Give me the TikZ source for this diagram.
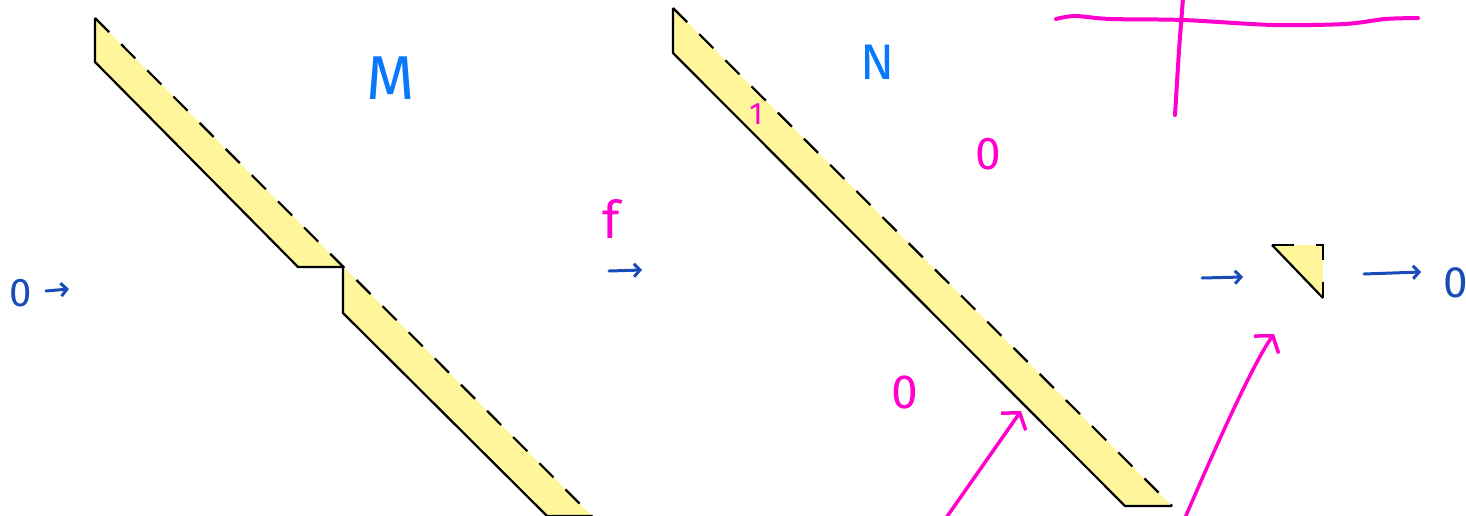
\documentclass[tikz,border=0pt]{standalone}
\usepackage{fontspec}
\setmainfont{Fira Sans}
\usetikzlibrary{arrows.meta}

\definecolor{stripfill}{RGB}{255,245,155}
\definecolor{penblue}{RGB}{10,120,250}
\definecolor{inkblue}{RGB}{25,75,185}
\definecolor{pinkpen}{RGB}{255,0,205}

\tikzset{
  hand/.style={inner sep=0pt, font=\fontsize{#1}{#1}\selectfont},
  edge/.style={line width=2.2pt, line join=miter},
  dashedge/.style={line width=2.2pt, dash pattern=on 20pt off 17pt},
  bluearrow/.style={inkblue, line width=3pt, line cap=round,
    -{Straight Barb[length=6pt,width=13pt,line width=3pt]}},
  pinkarrow/.style={pinkpen, line width=3.5pt, line cap=round,
    -{Straight Barb[length=11pt,width=30pt,line width=3.5pt]}},
  pinkline/.style={pinkpen, line width=4pt, line cap=round, line join=round}
}

\begin{document}
\begin{tikzpicture}[x=1pt, y=-1pt]
  \useasboundingbox (0,0) rectangle (1466,516);
  \begin{scope}
  \clip (0,0) rectangle (1466,516);

  % M : the broken strip
  \fill[stripfill] (95,18) -- (592,516) -- (547,516) -- (343,313)
    -- (343,267) -- (298,267) -- (95,62) -- cycle;
  \draw[edge] (95,18) -- (95,62) -- (298,267) -- (343,267) -- (343,313)
    -- (547,516) -- (592,516);
  \draw[dashedge] (95,18) -- (592,516);

  % N : the straight strip
  \fill[stripfill] (673,8) -- (1172,506) -- (1125,506) -- (673,53) -- cycle;
  \draw[edge] (673,8) -- (673,53) -- (1125,506) -- (1172,506);
  \draw[dashedge] (673,8) -- (1172,506);

  % small triangle
  \fill[stripfill] (1272,245) -- (1323,245) -- (1323,298) -- cycle;
  \draw[edge] (1272,245) -- (1323,298);
  \draw[line width=2.2pt, dash pattern=on 22pt off 22pt]
    (1272,245) -- (1323,245) -- (1323,298);

  % labels
  \node[hand=40, inkblue] (zeroL) at (21,293) {0};
  \node[hand=62, penblue] (labM) at (391,78) {M};
  \node[hand=52, pinkpen] (labF) at (611,219) {f};
  \node[hand=50, penblue] (labN) at (878,62) {N};
  \node[hand=31, pinkpen] (one) at (756,114) {1};
  \node[hand=46, pinkpen] (zeroU) at (988,154) {0};
  \node[hand=48, pinkpen] (zeroD) at (905,392) {0};
  \node[hand=44, inkblue] (zeroR) at (1456,283) {0};

  % exact sequence arrows
  \coordinate (a1s) at (46,291);
  \coordinate (a1e) at (69,289);
  \coordinate (a2s) at (609,271);
  \coordinate (a2e) at (642,270);
  \coordinate (a3s) at (1202,278);
  \coordinate (a3e) at (1243,277);
  \coordinate (a4s) at (1364,274);
  \coordinate (a4e) at (1421,272);
  \draw[bluearrow] (a1s) -- (a1e);
  \draw[bluearrow] (a2s) -- (a2e);
  \draw[bluearrow] (a3s) -- (a3e);
  \draw[bluearrow] (a4s) -- (a4e);

  % pink pointers
  \coordinate (p1s) at (946,518);
  \coordinate (p1e) at (1021,411);
  \coordinate (p2s) at (1185,518);
  \coordinate (p2e) at (1274,334);
  \draw[pinkarrow] (p1s) -- (p1e);
  \draw[pinkarrow] (p2s) .. controls (1212,455) and (1252,365) .. (p2e);

  % pink cross
  \draw[pinkline] plot[smooth] coordinates {(1056,19) (1075,16) (1110,19)
    (1183,20) (1273,25) (1345,24) (1385,19) (1418,18)};
  \draw[pinkline] (1183,-2) -- (1179,50) -- (1175,115);
  \end{scope}
\end{tikzpicture}
\end{document}
